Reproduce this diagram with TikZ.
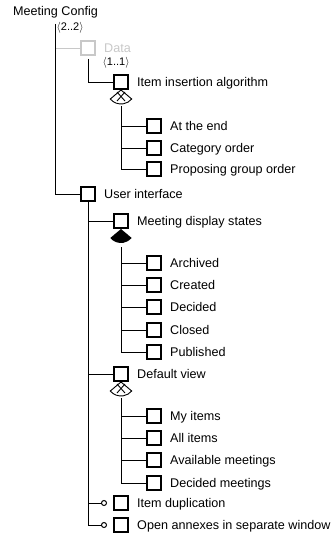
\documentclass[tikz,border=0pt]{standalone}
\usepackage{fontspec}
\setmainfont{Liberation Sans}
\usepackage{xcolor}
\usetikzlibrary{arrows.meta,positioning}
\definecolor{unusedgray}{RGB}{200,200,200}

\tikzset{
  feature/.style={draw, line width=2pt, minimum size=14pt, inner sep=0pt},
  ftext/.style={inner sep=0pt, anchor=west, text height=9pt, text depth=0pt,
    font=\fontsize{12.6}{15}\selectfont},
  card/.style={inner sep=0pt, anchor=west, font=\fontsize{11}{13}\selectfont},
  link/.style={line width=0.9pt},
  optional/.style={link, -{Circle[open, length=6pt, line width=1pt]}, shorten >=6pt},
}

\begin{document}
\begin{tikzpicture}[x=1pt, y=-1pt]
    \useasboundingbox (0,0) rectangle (332,535);

    % Root
    \node[ftext, anchor=center] (root) at (55.5,11.5) {Meeting Config};
    \coordinate (trunk) at (55,24);
    \node[card] (rootcard) at (56.5,28) {$\langle$2..2$\rangle$};

    % Data (unused)
    \node[feature, draw=unusedgray] (data) at (88,48) {};
    \node[ftext, unusedgray, right=8pt of data] (datal) {Data};
    \node[card] (datacard) at (102.5,63) {$\langle$1..1$\rangle$};
    \draw[link, unusedgray] (trunk |- data.west) -- (data.west);

    \node[feature] (ins) at (121,82) {};
    \node[ftext, right=8pt of ins] (insl) {Item insertion algorithm};
    \draw[link] ([yshift=-3pt]data.south) |- (ins.west);

    % alternative group
    \draw[link] (ins.south) -- ++(-140:14pt) arc[start angle=-140, end angle=-40, radius=14pt] -- cycle;
    \draw[link] ([shift={(-4pt,-2pt)}]ins.south) -- ([shift={(4pt,-11pt)}]ins.south);
    \draw[link] ([shift={(4pt,-2pt)}]ins.south) -- ([shift={(-4pt,-11pt)}]ins.south);
    \coordinate (insg) at ([yshift=-16pt]ins.south);

    \node[feature] (atend) at (154,126) {};
    \node[ftext, right=8pt of atend] (atendl) {At the end};
    \node[feature] (catord) at (154,148) {};
    \node[ftext, right=8pt of catord] (catordl) {Category order};
    \node[feature] (propgrp) at (154,169) {};
    \node[ftext, right=8pt of propgrp] (propgrpl) {Proposing group order};
    \draw[link] (insg) |- (atend.west);
    \draw[link] (insg) |- (catord.west);
    \draw[link] (insg) |- (propgrp.west);

    % User interface
    \node[feature] (ui) at (88,194) {};
    \node[ftext, right=8pt of ui] (uil) {User interface};
    \draw[link] (trunk) |- (ui.west);

    \node[feature] (mds) at (121,221) {};
    \node[ftext, right=8pt of mds] (mdsl) {Meeting display states};
    \draw[link] (ui.south) |- (mds.west);

    % or group
    \fill (mds.south) -- ++(-140:14pt) arc[start angle=-140, end angle=-40, radius=14pt] -- cycle;
    \coordinate (mdsg) at ([yshift=-18pt]mds.south);

    \node[feature] (archived) at (154,263) {};
    \node[ftext, right=8pt of archived] (archivedl) {Archived};
    \node[feature] (created) at (154,285) {};
    \node[ftext, right=8pt of created] (createdl) {Created};
    \node[feature] (decided) at (154,307) {};
    \node[ftext, right=8pt of decided] (decidedl) {Decided};
    \node[feature] (closed) at (154,330) {};
    \node[ftext, right=8pt of closed] (closedl) {Closed};
    \node[feature] (published) at (154,352) {};
    \node[ftext, right=8pt of published] (publishedl) {Published};
    \foreach \n in {archived,created,decided,closed,published}
        \draw[link] (mdsg) |- (\n.west);

    \node[feature] (dv) at (121,374) {};
    \node[ftext, right=8pt of dv] (dvl) {Default view};
    \draw[link] (ui.south) |- (dv.west);

    % alternative group
    \draw[link] (dv.south) -- ++(-140:14pt) arc[start angle=-140, end angle=-40, radius=14pt] -- cycle;
    \draw[link] ([shift={(-4pt,-2pt)}]dv.south) -- ([shift={(4pt,-11pt)}]dv.south);
    \draw[link] ([shift={(4pt,-2pt)}]dv.south) -- ([shift={(-4pt,-11pt)}]dv.south);
    \coordinate (dvg) at ([yshift=-16pt]dv.south);

    \node[feature] (myitems) at (154,416) {};
    \node[ftext, right=8pt of myitems] (myitemsl) {My items};
    \node[feature] (allitems) at (154,438) {};
    \node[ftext, right=8pt of allitems] (allitemsl) {All items};
    \node[feature] (availmeet) at (154,460) {};
    \node[ftext, right=8pt of availmeet] (availmeetl) {Available meetings};
    \node[feature] (decmeet) at (154,483) {};
    \node[ftext, right=8pt of decmeet] (decmeetl) {Decided meetings};
    \foreach \n in {myitems,allitems,availmeet,decmeet}
        \draw[link] (dvg) |- (\n.west);

    % optional features
    \node[feature] (dup) at (121,503) {};
    \node[ftext, right=8pt of dup] (dupl) {Item duplication};
    \node[feature] (annex) at (121,525) {};
    \node[ftext, right=8pt of annex] (annexl) {Open annexes in separate window};
    \draw[optional] (ui.south) |- (dup.west);
    \draw[optional] (ui.south) |- (annex.west);
\end{tikzpicture}
\end{document}
